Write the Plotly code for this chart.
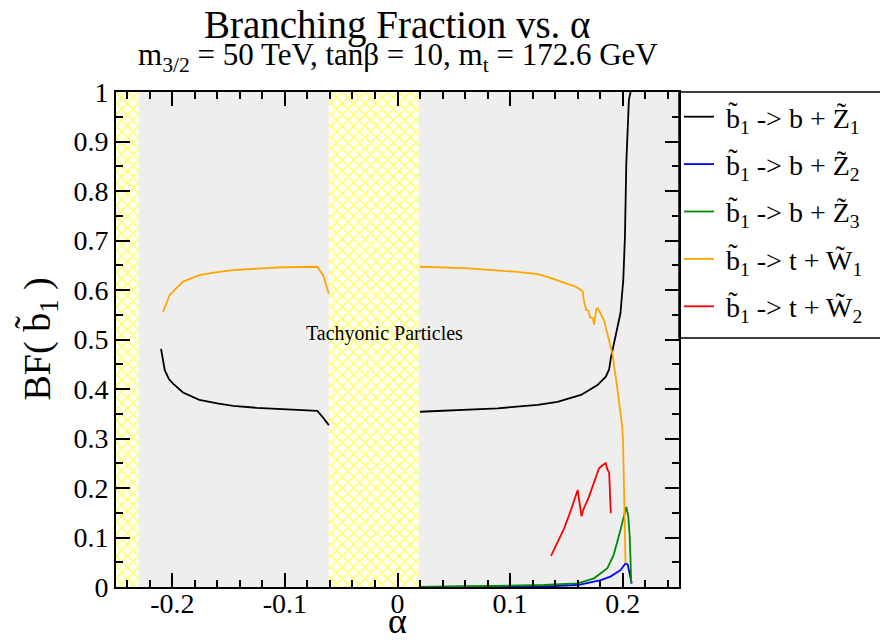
import plotly.graph_objects as go

# Sbottom-1 branching fractions versus the mixing parameter alpha
alpha_bz1 = [-0.210, -0.2067, -0.203, -0.1993, -0.1905, -0.176, -0.160, -0.146, -0.125, -0.102,
             -0.085, -0.0713, -0.066, -0.061, None,
             0.020, 0.050, 0.089, 0.1246, 0.142, 0.163, 0.1776, 0.185, 0.188, 0.1894,
             0.1937, 0.198, 0.2005, 0.202, 0.2032, 0.2055, 0.207]
bf_bz1 = [0.481, 0.438, 0.420, 0.411, 0.393, 0.378, 0.371, 0.366, 0.362, 0.359,
          0.357, 0.356, 0.342, 0.327, None,
          0.354, 0.357, 0.361, 0.368, 0.374, 0.388, 0.408, 0.425, 0.440, 0.462,
          0.506, 0.553, 0.620, 0.708, 0.856, 0.984, 1.000]

alpha_bz2 = [0.020, 0.060, 0.100, 0.140, 0.160, 0.1806, 0.189, 0.198, 0.2026, 0.2045, 0.2063, 0.208]
bf_bz2 = [0.000, 0.000, 0.001, 0.002, 0.004, 0.014, 0.021, 0.034, 0.048, 0.045, 0.028, 0.007]

alpha_bz3 = [0.020, 0.060, 0.100, 0.130, 0.160, 0.1745, 0.1864, 0.192, 0.198, 0.201, 0.2032,
             0.205, 0.2063, 0.2076]
bf_bz3 = [0.000, 0.001, 0.002, 0.004, 0.0075, 0.0175, 0.038, 0.065, 0.115, 0.142, 0.162,
          0.142, 0.100, 0.007]

alpha_tw1 = [-0.2082, -0.2023, -0.1905, -0.176, -0.160, -0.146, -0.125, -0.102, -0.0713,
             -0.066, -0.061, None,
             0.020, 0.060, 0.104, 0.1246, 0.1364, 0.142, 0.158, 0.163, 0.1645, 0.1654,
             0.1675, 0.1696, 0.171, 0.1735, 0.1745, 0.1765, 0.178, 0.1834, 0.1908, 0.195,
             0.1996, 0.2003, 0.2025]
bf_tw1 = [0.556, 0.590, 0.617, 0.630, 0.636, 0.640, 0.643, 0.646, 0.647,
          0.630, 0.593, None,
          0.647, 0.644, 0.637, 0.632, 0.624, 0.620, 0.607, 0.600, 0.597, 0.580,
          0.560, 0.558, 0.545, 0.543, 0.530, 0.561, 0.563, 0.539, 0.472, 0.405,
          0.324, 0.297, 0.048]

alpha_tw2 = [0.1364, 0.142, 0.148, 0.154, 0.160, 0.1634, 0.165, 0.170, 0.1745, 0.179,
             0.182, 0.185, 0.186, 0.188, 0.1894]
bf_tw2 = [0.063, 0.090, 0.1185, 0.155, 0.196, 0.143, 0.156, 0.182, 0.209, 0.240,
          0.246, 0.250, 0.240, 0.230, 0.149]

# Tachyonic regions (left edge, right edge in alpha)
tachyonic_lo = [-0.25, -0.061]
tachyonic_hi = [-0.23, 0.019]

series = [
    ("&nbsp;b̃<sub>1</sub> -> b + Z̃<sub>1</sub>", alpha_bz1, bf_bz1, "#000000"),
    ("&nbsp;b̃<sub>1</sub> -> b + Z̃<sub>2</sub>", alpha_bz2, bf_bz2, "#0000ff"),
    ("&nbsp;b̃<sub>1</sub> -> b + Z̃<sub>3</sub>", alpha_bz3, bf_bz3, "#008b00"),
    ("&nbsp;b̃<sub>1</sub> -> t + W̃<sub>1</sub>", alpha_tw1, bf_tw1, "#ffa500"),
    ("&nbsp;b̃<sub>1</sub> -> t + W̃<sub>2</sub>", alpha_tw2, bf_tw2, "#ff0000"),
]

x_tickvals = [-0.2, -0.1, 0.0, 0.1, 0.2]
x_ticktext = ["-0.2", "-0.1", "0", "0.1", "0.2"]
y_tickvals = [0, 0.1, 0.2, 0.3, 0.4, 0.5, 0.6, 0.7, 0.8, 0.9, 1.0]
y_ticktext = ["0", "0.1", "0.2", "0.3", "0.4", "0.5", "0.6", "0.7", "0.8", "0.9", "1"]

SERIF = "Liberation Serif"

fig = go.Figure()

# hatched tachyonic bands
fig.add_trace(go.Bar(
    x=[(a + b) / 2 for a, b in zip(tachyonic_lo, tachyonic_hi)],
    y=[1.0] * len(tachyonic_lo),
    width=[b - a for a, b in zip(tachyonic_lo, tachyonic_hi)],
    marker=dict(color="white", line=dict(width=0),
                pattern=dict(shape="x", fgcolor="#ffff00", bgcolor="white",
                             size=8, solidity=0.45)),
    showlegend=False, hoverinfo="skip",
))

for i, (name, xs, ys, col) in enumerate(series):
    fig.add_trace(go.Scatter(
        x=xs, y=ys, mode="lines", name=name,
        line=dict(color=col, width=1.8),
        legendgroup=f"g{i}", connectgaps=False,
    ))

fig.add_annotation(x=-0.0115, y=0.513, xref="x", yref="y", text="Tachyonic Particles",
                   showarrow=False, font=dict(family=SERIF, size=20, color="black"))

# titles
fig.add_annotation(x=0.5, y=1, xref="paper", yref="paper", yshift=67, yanchor="middle",
                   text="Branching Fraction vs. α", showarrow=False,
                   font=dict(family=SERIF, size=39, color="black"))
fig.add_annotation(x=0.5, y=1, xref="paper", yref="paper", yshift=35, yanchor="middle",
                   text="m<sub>3/2</sub> = 50 TeV, tanβ = 10, m<sub>t</sub> = 172.6 GeV",
                   showarrow=False, font=dict(family=SERIF, size=31, color="black"))

# axis titles
fig.add_annotation(x=0.5, y=0, xref="paper", yref="paper", yshift=-34, yanchor="middle",
                   text="α", showarrow=False, font=dict(family=SERIF, size=36, color="black"))
fig.add_annotation(x=0, y=0.5, xref="paper", yref="paper", xshift=-76, xanchor="center",
                   textangle=-90, text="BF( b̃<sub>1</sub> )", showarrow=False,
                   font=dict(family=SERIF, size=38, color="black"))

# frame around the legend, open to the right
fig.add_shape(type="rect", xref="paper", yref="paper", x0=1.0, x1=1.4, y0=0.503, y1=1.0,
              line=dict(color="black", width=1.5), fillcolor="rgba(0,0,0,0)", layer="below")

axis_common = dict(
    showgrid=False, zeroline=False, showline=True, linecolor="black", linewidth=2,
    mirror="allticks", ticks="inside", ticklen=14, tickwidth=1.5, tickcolor="black",
    tickfont=dict(family=SERIF, size=28, color="black"), automargin=False,
)

fig.update_layout(
    width=880, height=642,
    margin=dict(l=116, r=198, t=92, b=55),
    paper_bgcolor="white", plot_bgcolor="#eeeeee",
    font=dict(family=SERIF, color="black"),
    barmode="overlay",
    showlegend=True,
    legend=dict(x=1.0, y=1.0, xanchor="left", yanchor="top",
                bgcolor="rgba(0,0,0,0)", borderwidth=0,
                font=dict(family=SERIF, size=28, color="black"),
                tracegroupgap=8, itemwidth=30),
    xaxis=dict(range=[-0.25, 0.25], tickvals=x_tickvals, ticktext=x_ticktext,
               ticklabelstandoff=-10,
               minor=dict(dtick=0.02, tick0=0, ticks="inside", ticklen=7, tickcolor="black"),
               **axis_common),
    yaxis=dict(range=[0, 1], tickvals=y_tickvals, ticktext=y_ticktext,
               minor=dict(dtick=0.05, tick0=0, ticks="inside", ticklen=7, tickcolor="black"),
               **axis_common),
)

fig.write_html("out.html")
